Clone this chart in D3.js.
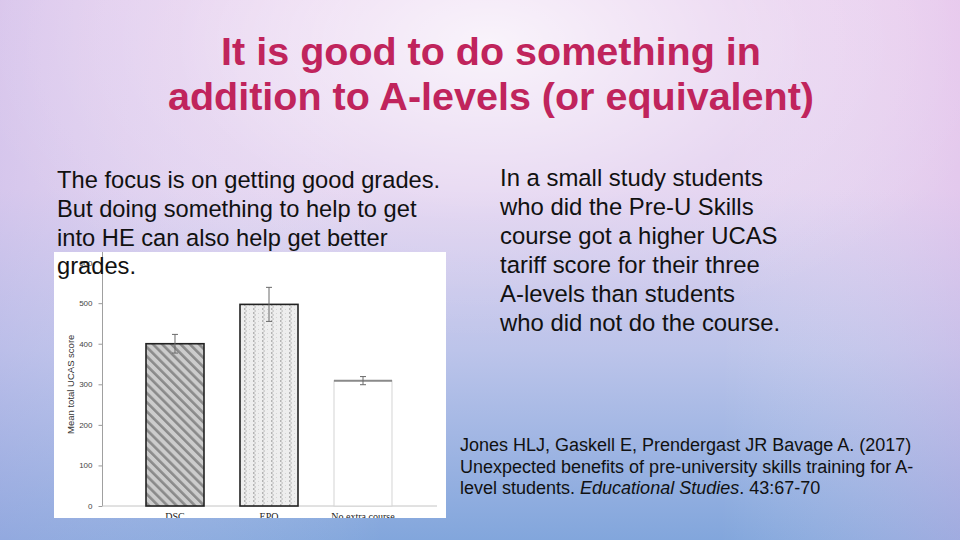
<!DOCTYPE html>
<html>
<head>
<meta charset="utf-8">
<script src="https://cdn.jsdelivr.net/npm/d3@7"></script>
<style>
  html, body { margin: 0; padding: 0; overflow: hidden; }
  svg { display: block; }
</style>
</head>
<body>
<svg id="slide" width="960" height="540"></svg>
<script>
// ---------- data ----------
const categories = ["DSC", "EPQ", "No extra course"];
const means = [400, 497, 309];
const errors = [23, 42, 10];
const yTicks = [0, 100, 200, 300, 400, 500, 600];
const yLabel = "Mean total UCAS score";

const titleLines = ["It is good to do something in", "addition to A-levels (or equivalent)"];
const leftLines = ["The focus is on getting good grades.", "But doing something to help to get", "into HE can also help get better", "grades."];
const rightLines = ["In a small study students", "who did the Pre-U Skills", "course got a higher UCAS", "tariff score for their three", "A-levels than students", "who did not do the course."];
const citeLine1 = "Jones HLJ, Gaskell E, Prendergast JR Bavage A. (2017)";
const citeLine2 = "Unexpected benefits of pre-university skills training for A-";
const citeLine3a = "level students. ";
const citeLine3b = "Educational Studies";
const citeLine3c = ". 43:67-70";

// ---------- setup ----------
const svg = d3.select("#slide");
const defs = svg.append("defs");

const lg = defs.append("linearGradient").attr("id", "bg").attr("x1", 0).attr("y1", 0).attr("x2", 0).attr("y2", 1);
[["0%", "#e8d0ef"], ["35%", "#e2d0ef"], ["65%", "#bcc4ea"], ["100%", "#82a6dc"]]
  .forEach(([o, c]) => lg.append("stop").attr("offset", o).attr("stop-color", c));

const rg = defs.append("radialGradient").attr("id", "glow")
  .attr("cx", 0.51).attr("cy", 0.08).attr("r", 0.55);
rg.append("stop").attr("offset", "0%").attr("stop-color", "#ffffff").attr("stop-opacity", 0.75);
rg.append("stop").attr("offset", "60%").attr("stop-color", "#ffffff").attr("stop-opacity", 0.15);
rg.append("stop").attr("offset", "100%").attr("stop-color", "#ffffff").attr("stop-opacity", 0);

const sideR = defs.append("linearGradient").attr("id", "side").attr("x1", 0).attr("y1", 0).attr("x2", 1).attr("y2", 0);
sideR.append("stop").attr("offset", "0%").attr("stop-color", "#b8b0e6").attr("stop-opacity", 0.3);
sideR.append("stop").attr("offset", "40%").attr("stop-color", "#ffffff").attr("stop-opacity", 0);
sideR.append("stop").attr("offset", "75%").attr("stop-color", "#ffffff").attr("stop-opacity", 0);
sideR.append("stop").attr("offset", "100%").attr("stop-color", "#e6b8e8").attr("stop-opacity", 0.3);

// bar patterns
const pDSC = defs.append("pattern").attr("id", "pDSC").attr("patternUnits", "userSpaceOnUse")
  .attr("width", 6.5).attr("height", 6.5).attr("patternTransform", "rotate(-45)");
pDSC.append("rect").attr("width", 6.5).attr("height", 6.5).attr("fill", "#cccccc");
pDSC.append("rect").attr("width", 2.6).attr("height", 6.5).attr("fill", "#8a8a8a");

const pEPQ = defs.append("pattern").attr("id", "pEPQ").attr("patternUnits", "userSpaceOnUse")
  .attr("width", 9).attr("height", 4);
pEPQ.append("rect").attr("width", 9).attr("height", 4).attr("fill", "#eeeeee");
pEPQ.append("rect").attr("x", 1).attr("width", 1.5).attr("height", 2).attr("fill", "#b4b4b4");
pEPQ.append("rect").attr("x", 2.5).attr("y", 2).attr("width", 1.2).attr("height", 2).attr("fill", "#c4c4c4");
pEPQ.append("rect").attr("x", 6).attr("y", 1).attr("width", 1).attr("height", 1).attr("fill", "#d4d4d4");

// ---------- background ----------
svg.append("rect").attr("width", 960).attr("height", 540).attr("fill", "url(#bg)");
svg.append("rect").attr("width", 960).attr("height", 540).attr("fill", "url(#side)");
svg.append("rect").attr("width", 960).attr("height", 540).attr("fill", "url(#glow)");

// ---------- chart image ----------
const img = { x: 54, y: 252, w: 392, h: 266 };
defs.append("clipPath").attr("id", "imgClip").append("rect")
  .attr("x", img.x).attr("y", img.y).attr("width", img.w).attr("height", img.h);
const chart = svg.append("g").attr("clip-path", "url(#imgClip)");
chart.append("rect").attr("x", img.x).attr("y", img.y).attr("width", img.w).attr("height", img.h).attr("fill", "#ffffff");

const y = d3.scaleLinear().domain([0, 600]).range([506, 262.6]);
const x = d3.scaleBand().domain(categories).range([108.4, 429.6]).paddingInner(0.383).paddingOuter(0.4);
const axisX0 = 102.5, axisX1 = 437;

// y axis
const yAxis = d3.axisLeft(y).tickValues(yTicks).tickSize(4).tickSizeOuter(0).tickFormat(d3.format("d"));
const yg = chart.append("g").attr("transform", `translate(${axisX0},0)`).call(yAxis);
yg.select(".domain").remove();
yg.selectAll(".tick line").attr("stroke", "#9a9a9a");
yg.selectAll(".tick text").attr("fill", "#444").attr("font-size", 8)
  .attr("font-family", "Liberation Sans, Arial, sans-serif").attr("x", -10);
chart.append("line").attr("x1", axisX0).attr("x2", axisX0).attr("y1", img.y).attr("y2", y(0))
  .attr("stroke", "#a0a0a0").attr("stroke-width", 1);

// x axis baseline
chart.append("line").attr("x1", axisX0).attr("x2", axisX1).attr("y1", y(0)).attr("y2", y(0))
  .attr("stroke", "#c4c4c4").attr("stroke-width", 1);

// y label
chart.append("text").attr("transform", `translate(74,${y(300)}) rotate(-90)`)
  .attr("text-anchor", "middle").attr("font-size", 9.5).attr("fill", "#333")
  .attr("font-family", "Liberation Sans, Arial, sans-serif").text(yLabel);

// bars
const fills = ["url(#pDSC)", "url(#pEPQ)", "#ffffff"];
const strokes = ["#222", "#222", "#d4d4d4"];
const widths = [1.6, 1.6, 1];
const bars = categories.map((c, i) => ({ c, v: means[i], e: errors[i], i }));
chart.selectAll("rect.bar").data(bars).join("rect").attr("class", "bar")
  .attr("x", d => x(d.c)).attr("width", x.bandwidth())
  .attr("y", d => y(d.v)).attr("height", d => y(0) - y(d.v))
  .attr("fill", d => fills[d.i]).attr("stroke", d => strokes[d.i]).attr("stroke-width", d => widths[d.i]);
// top edge of the outline-only bar
chart.selectAll("line.topedge").data(bars.filter(d => d.i === 2)).join("line").attr("class", "topedge")
  .attr("x1", d => x(d.c)).attr("x2", d => x(d.c) + x.bandwidth())
  .attr("y1", d => y(d.v)).attr("y2", d => y(d.v)).attr("stroke", "#8a8a8a").attr("stroke-width", 2);

// error bars
const eg = chart.selectAll("g.err").data(bars).join("g").attr("class", "err")
  .attr("transform", d => `translate(${x(d.c) + x.bandwidth() / 2},0)`);
eg.append("line").attr("y1", d => y(d.v + d.e)).attr("y2", d => y(d.v - d.e)).attr("stroke", "#6a6a6a").attr("stroke-width", 1);
eg.append("line").attr("x1", -3).attr("x2", 3).attr("y1", d => y(d.v + d.e)).attr("y2", d => y(d.v + d.e)).attr("stroke", "#6a6a6a");
eg.append("line").attr("x1", -3).attr("x2", 3).attr("y1", d => y(d.v - d.e)).attr("y2", d => y(d.v - d.e)).attr("stroke", "#6a6a6a");

// x labels
chart.selectAll("text.xl").data(categories).join("text").attr("class", "xl")
  .attr("x", d => x(d) + x.bandwidth() / 2).attr("y", 520)
  .attr("text-anchor", "middle").attr("font-size", 10).attr("fill", "#222")
  .attr("font-family", "Liberation Serif, Times New Roman, serif").text(d => d);

// ---------- texts ----------
const sans = "Liberation Sans, Arial, Helvetica, sans-serif";
svg.append("g").selectAll("text").data(titleLines).join("text")
  .attr("x", 491).attr("y", (d, i) => 65 + i * 45).attr("text-anchor", "middle")
  .attr("font-family", sans).attr("font-weight", "bold").attr("font-size", 39.5)
  .attr("fill", "#c0245c").text(d => d);

svg.append("g").selectAll("text").data(leftLines).join("text")
  .attr("x", 57).attr("y", (d, i) => 188 + i * 28.8)
  .attr("font-family", sans).attr("font-size", 23.7).attr("fill", "#111").text(d => d);

svg.append("g").selectAll("text").data(rightLines).join("text")
  .attr("x", 500).attr("y", (d, i) => 186 + i * 28.9)
  .attr("font-family", sans).attr("font-size", 23.9).attr("fill", "#111").text(d => d);

const cite = svg.append("g").attr("font-family", sans).attr("font-size", 18).attr("fill", "#111");
cite.append("text").attr("x", 460).attr("y", 451).text(citeLine1);
cite.append("text").attr("x", 460).attr("y", 472.5).text(citeLine2);
const c3 = cite.append("text").attr("x", 460).attr("y", 494);
c3.append("tspan").text(citeLine3a);
c3.append("tspan").attr("font-style", "italic").text(citeLine3b);
c3.append("tspan").text(citeLine3c);
</script>
</body>
</html>
